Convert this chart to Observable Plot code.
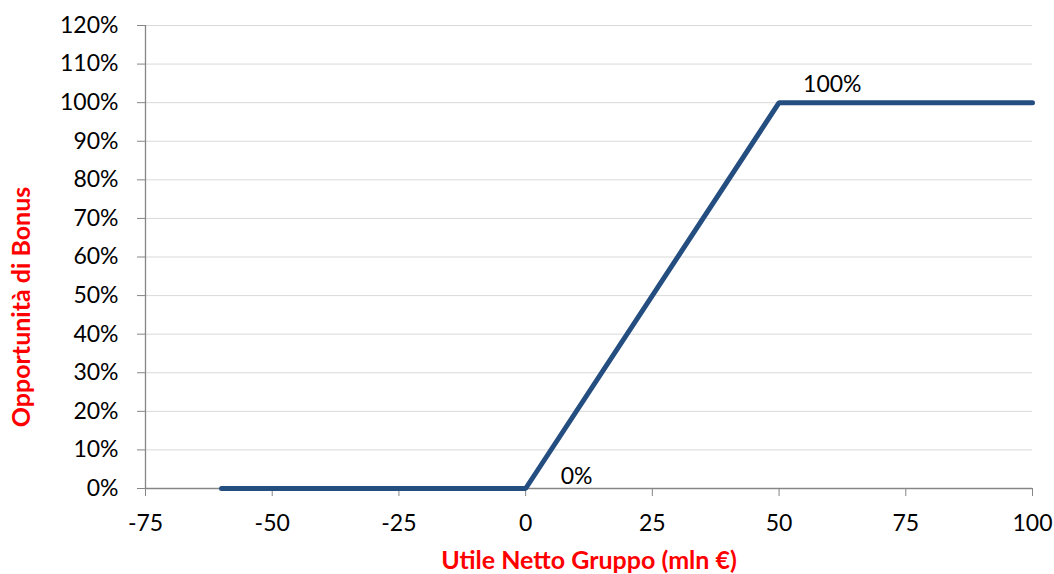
<!DOCTYPE html>
<html><head><meta charset="utf-8">
<script src="https://cdn.jsdelivr.net/npm/d3@7"></script>
<script src="https://cdn.jsdelivr.net/npm/@observablehq/plot@0.6"></script>
<style>body{margin:0;background:#fff;overflow:hidden}</style>
</head><body><div id="chart"></div>
<script>
const utile = [-60, 0, 50, 100];
const bonus = [0, 0, 100, 100];
const xTicks = [-75, -50, -25, 0, 25, 50, 75, 100];
const yTicks = [0, 10, 20, 30, 40, 50, 60, 70, 80, 90, 100, 110, 120];
const labelX = [0, 50];
const labelY = [0, 100];
const labelText = ["0%", "100%"];
const xTitle = "Utile Netto Gruppo (mln €)";
const yTitle = "Opportunità di Bonus";

const line = utile.map((x, i) => ({x, y: bonus[i]}));
const labels = labelX.map((x, i) => ({x, y: labelY[i], text: labelText[i]}));
const axisGray = "#868686";
const red = "#ff0000";

const chart = Plot.plot({
  width: 1054,
  height: 574,
  marginLeft: 145,
  marginRight: 22,
  marginTop: 25,
  marginBottom: 86,
  style: {fontFamily: "Lato, 'Open Sans', sans-serif", fontSize: "23px", color: "#000", background: "#fff"},
  x: {domain: [-75, 100]},
  y: {domain: [0, 120]},
  marks: [
    Plot.gridY(yTicks.filter(d => d > 0), {stroke: "#d9d9d9", strokeOpacity: 1, strokeWidth: 1}),
    Plot.ruleY([0], {stroke: axisGray, strokeWidth: 1.3}),
    Plot.ruleX([-75], {stroke: axisGray, strokeWidth: 1.3}),
    Plot.axisY({ticks: yTicks, tickSize: 8, tickPadding: 19, stroke: axisGray, fill: "#000", tickFormat: d => d + "%", label: null}),
    Plot.axisX({ticks: xTicks, tickSize: 8, tickPadding: 18, stroke: axisGray, fill: "#000", tickFormat: d => String(d).replace("−", "-"), label: null}),
    Plot.line(line, {x: "x", y: "y", stroke: "#254e80", strokeWidth: 5, strokeLinecap: "round", strokeLinejoin: "miter"}),
    Plot.text(labels.slice(0, 1), {x: "x", y: "y", text: "text", textAnchor: "start", dx: 35, dy: -11.5, fill: "#000"}),
    Plot.text(labels.slice(1, 2), {x: "x", y: "y", text: "text", textAnchor: "start", dx: 24, dy: -18.5, fill: "#000"})
  ]
});

const svg = d3.select(chart);
svg.append("text")
  .attr("x", 589).attr("y", 569)
  .attr("text-anchor", "middle")
  .attr("fill", red).attr("font-weight", "bold").attr("font-size", 25)
  .text(xTitle);
svg.append("text")
  .attr("transform", "translate(30,307) rotate(-90)")
  .attr("text-anchor", "middle")
  .attr("fill", red).attr("font-weight", "bold").attr("font-size", 25)
  .text(yTitle);

document.getElementById("chart").appendChild(chart);
</script>
</body></html>
